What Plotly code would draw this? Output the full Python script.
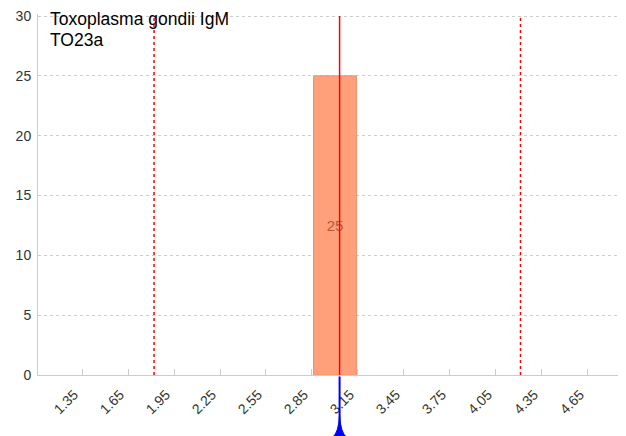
import plotly.graph_objects as go

# bin edges (upper bound labels) and the only populated bin
tick_vals = [1.35, 1.65, 1.95, 2.25, 2.55, 2.85, 3.15, 3.45, 3.75, 4.05, 4.35, 4.65]
tick_text = ["1.35", "1.65", "1.95", "2.25", "2.55", "2.85", "3.15", "3.45",
             "3.75", "4.05", "4.35", "4.65"]
overflow_pos = 4.95
overflow_label = ">"

bin_centers = [3.0]
bin_counts = [25]

mean_value = 3.03
low_limit = 1.82
high_limit = 4.21

title_lines = ["Toxoplasma gondii IgM", "TO23a"]

FONT = "Liberation Sans, Arial, sans-serif"
x_range = [1.063, 4.898]
y_range = [0, 30.167]

fig = go.Figure()

fig.add_trace(
    go.Bar(
        x=bin_centers,
        y=bin_counts,
        width=0.28,
        marker=dict(color="#FFA07A", line=dict(color="#F09070", width=1)),
        text=[str(c) for c in bin_counts],
        textposition="inside",
        insidetextanchor="middle",
        textfont=dict(color="#B55A38", size=15, family=FONT),
        hoverinfo="skip",
    )
)

# limits and mean
for xv in (low_limit, high_limit):
    fig.add_shape(type="line", xref="x", yref="y", x0=xv, x1=xv, y0=0, y1=30,
                  line=dict(color="red", width=1.5, dash="dot"))
fig.add_shape(type="line", xref="x", yref="y", x0=mean_value, x1=mean_value,
              y0=0, y1=30, line=dict(color="#FF0000", width=1.5))

# blue pointer under the axis
m = mean_value
fig.add_shape(type="line", xref="x", yref="paper", x0=m, x1=m, y0=-0.004, y1=-0.15,
              line=dict(color="blue", width=2))
fig.add_shape(
    type="path", xref="x", yref="paper",
    path=(f"M {m - 0.045},-0.172 Q {m - 0.006},-0.16 {m},-0.11 "
          f"Q {m + 0.006},-0.16 {m + 0.045},-0.172 Z"),
    fillcolor="blue", line=dict(color="blue", width=1),
)

fig.add_annotation(xref="paper", yref="paper", x=0.017, y=0.985, xanchor="left",
                   yanchor="middle", text=title_lines[0], showarrow=False,
                   font=dict(size=17.5, color="black", family=FONT))
fig.add_annotation(xref="paper", yref="paper", x=0.017, y=0.927, xanchor="left",
                   yanchor="middle", text=title_lines[1], showarrow=False,
                   font=dict(size=17.5, color="black", family=FONT))

# overflow label sits past the visible range, so place it in paper units
ov_x = (overflow_pos - x_range[0]) / (x_range[1] - x_range[0])
fig.add_annotation(xref="paper", yref="paper", x=ov_x, y=-0.022, xanchor="right",
                   yanchor="top", text=overflow_label, textangle=-45, showarrow=False,
                   font=dict(size=14, color="#333", family=FONT))

fig.update_xaxes(
    range=x_range,
    tickvals=tick_vals,
    ticktext=tick_text,
    tickangle=-45,
    ticks="inside",
    ticklen=6,
    tickcolor="#ccc",
    showline=True,
    linecolor="#ccc",
    showgrid=False,
    zeroline=False,
    automargin=False,
    ticklabelshift=-8,
    ticklabelstandoff=5,
    ticklabeloverflow="allow",
    tickfont=dict(size=14, color="#333", family=FONT),
)
fig.update_yaxes(
    range=y_range,
    dtick=5,
    showline=True,
    linecolor="#ccc",
    showgrid=True,
    gridcolor="#ccc",
    griddash="dot",
    zeroline=False,
    automargin=False,
    ticklabelstandoff=3,
    ticklabeloverflow="allow",
    tickfont=dict(size=14, color="#333", family=FONT),
)

# the page body adds an 8px offset, so the figure is trimmed to compensate
fig.update_layout(
    width=618,
    height=428,
    margin=dict(l=30, r=0, t=6, b=61),
    plot_bgcolor="white",
    paper_bgcolor="white",
    showlegend=False,
    font=dict(family=FONT),
)

fig.write_html("out.html")
